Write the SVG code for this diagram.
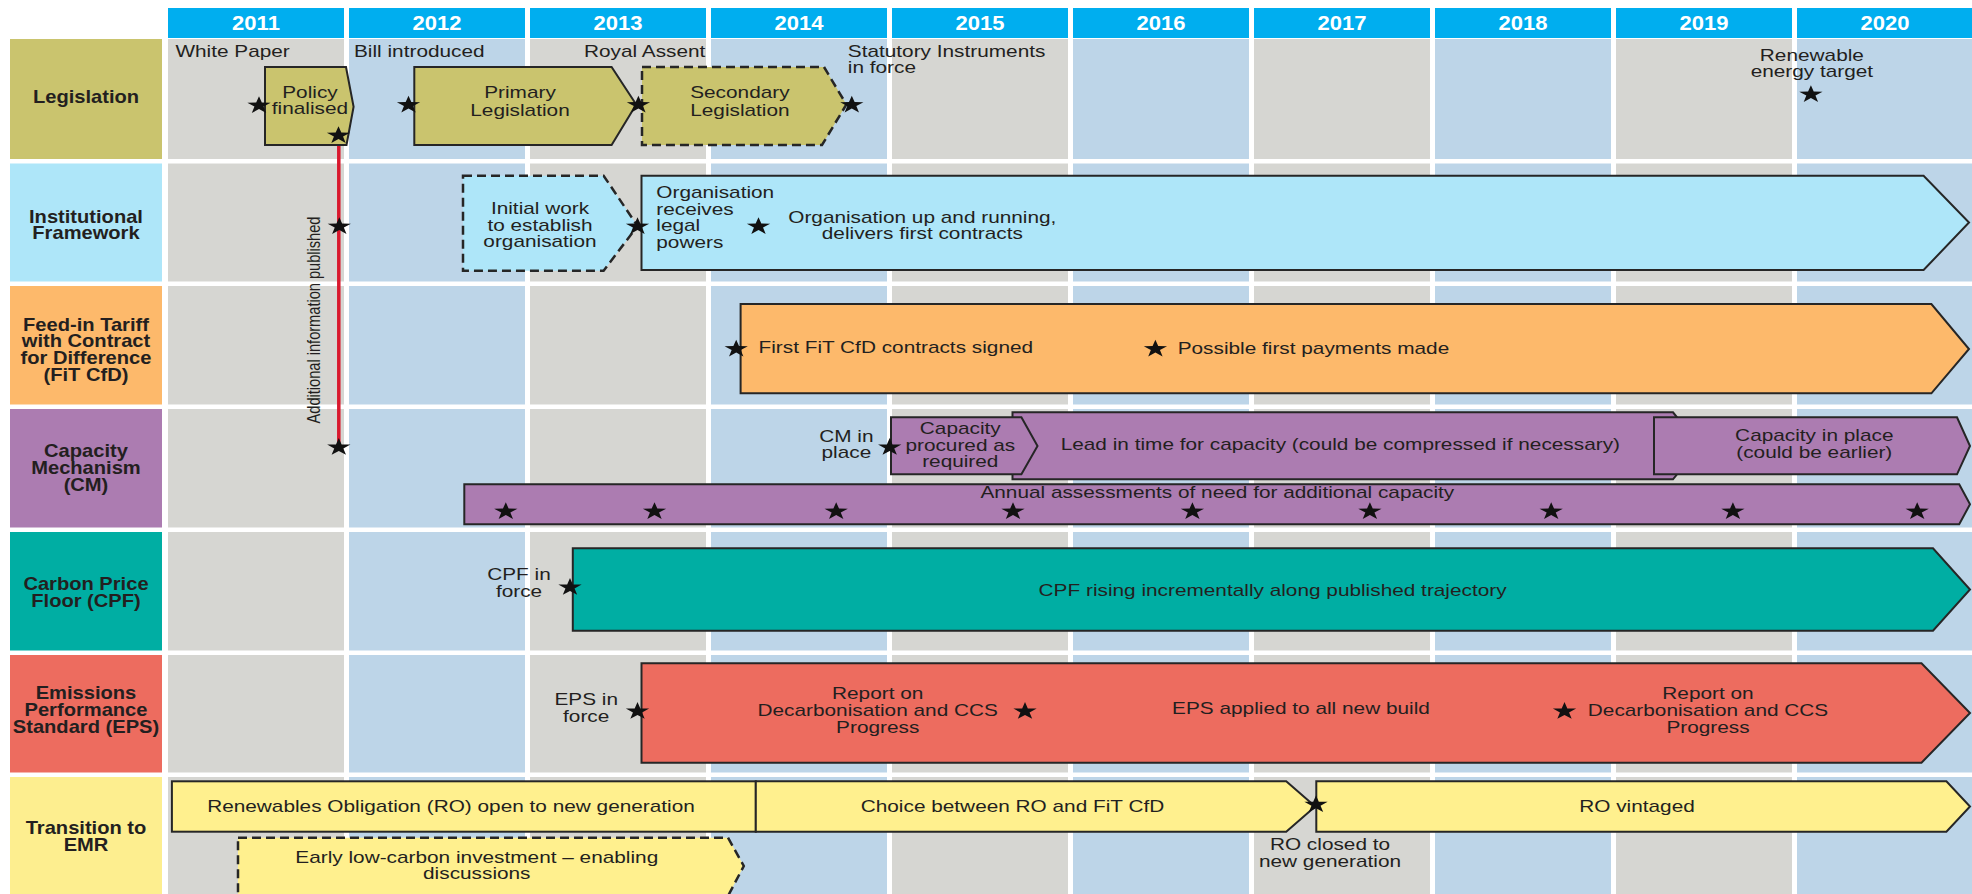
<svg xmlns="http://www.w3.org/2000/svg" width="1972" height="894" viewBox="0 0 1972 894">
<defs>
<path id="star" d="M0,-9.2 L2.82,-2.91 L11.64,-2.84 L4.55,1.11 L7.19,7.44 L0,3.6 L-7.19,7.44 L-4.55,1.11 L-11.64,-2.84 L-2.82,-2.91 Z" fill="#111"/>
<style>
.t{font-family:"Liberation Sans",Arial,sans-serif;font-size:16px;fill:#231f20;transform-box:fill-box;transform:scaleX(1.3)}
.s{text-anchor:start;transform-origin:0% 50%}
.m{text-anchor:middle;transform-origin:50% 50%}
.b{font-weight:bold;font-size:17.5px;transform:scaleX(1.15)}
.h{font-family:"Liberation Sans",Arial,sans-serif;font-weight:bold;font-size:19.5px;fill:#fff;text-anchor:middle;transform-box:fill-box;transform-origin:50% 50%;transform:scaleX(1.13)}
.g{fill:#d6d6d2}
.u{fill:#bdd5e8}
.hd{fill:#00aeef}
.sh{stroke:#262626;stroke-width:2;stroke-linejoin:miter}
.d{stroke-dasharray:9 5;stroke-width:2.5}
</style>
</defs>
<rect width="1972" height="894" fill="#fff"/>
<g id="grid">
<g id="header">
<rect class="hd" x="168" y="8" width="176" height="30"/>
<rect class="hd" x="349" y="8" width="176" height="30"/>
<rect class="hd" x="530" y="8" width="176" height="30"/>
<rect class="hd" x="711" y="8" width="176" height="30"/>
<rect class="hd" x="892" y="8" width="176" height="30"/>
<rect class="hd" x="1073" y="8" width="176" height="30"/>
<rect class="hd" x="1254" y="8" width="176" height="30"/>
<rect class="hd" x="1435" y="8" width="176" height="30"/>
<rect class="hd" x="1616" y="8" width="176" height="30"/>
<rect class="hd" x="1797" y="8" width="175" height="30"/>
<text class="h" x="256" y="30">2011</text>
<text class="h" x="437" y="30">2012</text>
<text class="h" x="618" y="30">2013</text>
<text class="h" x="799" y="30">2014</text>
<text class="h" x="980" y="30">2015</text>
<text class="h" x="1161" y="30">2016</text>
<text class="h" x="1342" y="30">2017</text>
<text class="h" x="1523" y="30">2018</text>
<text class="h" x="1704" y="30">2019</text>
<text class="h" x="1885" y="30">2020</text>
</g>
<g id="cells">
<rect class="g" x="168" y="39" width="176" height="855"/>
<rect class="u" x="349" y="39" width="176" height="855"/>
<rect class="g" x="530" y="39" width="176" height="855"/>
<rect class="u" x="711" y="39" width="176" height="855"/>
<rect class="g" x="892" y="39" width="176" height="855"/>
<rect class="u" x="1073" y="39" width="176" height="855"/>
<rect class="g" x="1254" y="39" width="176" height="855"/>
<rect class="u" x="1435" y="39" width="176" height="855"/>
<rect class="g" x="1616" y="39" width="176" height="855"/>
<rect class="u" x="1797" y="39" width="175" height="855"/>
<g fill="#fff">
<rect x="160" y="159" width="1812" height="4.5"/>
<rect x="160" y="281.5" width="1812" height="4.5"/>
<rect x="160" y="404.5" width="1812" height="4.5"/>
<rect x="160" y="527.5" width="1812" height="4.5"/>
<rect x="160" y="650.5" width="1812" height="4.5"/>
<rect x="160" y="772.5" width="1812" height="4.5"/>
</g>
</g>
</g>
<g id="row-labels">
<g id="label-legislation"><rect x="10" y="39" width="152" height="120" fill="#cac46e"/><text class="t m b" x="86" y="103.5">Legislation</text></g>
<g id="label-institutional"><rect x="10" y="163.5" width="152" height="118" fill="#aee6f9"/><text class="t m b" x="86" y="222.7">Institutional<tspan x="86" y="239.3">Framework</tspan></text></g>
<g id="label-fit"><rect x="10" y="286" width="152" height="118.5" fill="#fdb96b"/><text class="t m b" x="86" y="330.7">Feed-in Tariff<tspan x="86" y="347.3">with Contract</tspan><tspan x="86" y="364">for Difference</tspan><tspan x="86" y="380.7">(FiT CfD)</tspan></text></g>
<g id="label-cm"><rect x="10" y="409" width="152" height="118.5" fill="#ac7cb1"/><text class="t m b" x="86" y="457.3">Capacity<tspan x="86" y="474">Mechanism</tspan><tspan x="86" y="490.7">(CM)</tspan></text></g>
<g id="label-cpf"><rect x="10" y="532" width="152" height="118.5" fill="#00aea3"/><text class="t m b" x="86" y="590">Carbon Price<tspan x="86" y="606.7">Floor (CPF)</tspan></text></g>
<g id="label-eps"><rect x="10" y="655" width="152" height="117.5" fill="#ed6c5f"/><text class="t m b" x="86" y="699.3">Emissions<tspan x="86" y="716">Performance</tspan><tspan x="86" y="732.7">Standard (EPS)</tspan></text></g>
<g id="label-transition"><rect x="10" y="777" width="152" height="117" fill="#fdee8f"/><text class="t m b" x="86" y="834">Transition to<tspan x="86" y="851">EMR</tspan></text></g>
</g>
<g id="connectors">
<line x1="338.8" y1="135" x2="338.8" y2="446.7" stroke="#d9182d" stroke-width="3.5"/>
<text font-family="Liberation Sans, Arial, sans-serif" font-size="14.6" fill="#231f20" text-anchor="middle" transform="translate(319.5,320) scale(1.3,1) rotate(-90)">Additional information published</text>
</g>
<g id="legislation">
<text class="t s" x="175.4" y="57.3">White Paper</text>
<text class="t s" x="354" y="57.3">Bill introduced</text>
<text class="t s" x="584" y="57.3">Royal Assent</text>
<text class="t s" x="847.8" y="57.3">Statutory Instruments<tspan x="847.8" y="73.5">in force</tspan></text>
<text class="t m" x="1812" y="61">Renewable<tspan x="1812" y="77">energy target</tspan></text>
<g id="policy-finalised"><polygon class="sh" fill="#cac46e" points="265,67 346,67 353.6,106.7 346.5,145 265,145"/><text class="t m" x="310" y="98.3">Policy<tspan x="310" y="114.5">finalised</tspan></text></g>
<g id="primary-legislation"><polygon class="sh" fill="#cac46e" points="414.3,67 611.6,67 636.2,104.5 611.6,145 414.3,145"/><text class="t m" x="520" y="98.3">Primary<tspan x="520" y="116">Legislation</tspan></text></g>
<g id="secondary-legislation"><polygon class="sh d" fill="#cac46e" points="642,67 824,67 846.4,104.5 822,145 642,145"/><text class="t m" x="740" y="98.3">Secondary<tspan x="740" y="116">Legislation</tspan></text></g>
</g>
<g id="institutional">
<g id="initial-work"><polygon class="sh d" fill="#aee6f9" points="463,175.7 603.6,175.7 637.5,226 603.6,270.7 463,270.7"/><text class="t m" x="540" y="214.3">Initial work<tspan x="540" y="231">to establish</tspan><tspan x="540" y="247.5">organisation</tspan></text></g>
<g id="organisation-running"><polygon class="sh" fill="#aee6f9" points="641.5,175.7 1923.6,175.7 1969,222.5 1923.6,270 641.5,270"/><text class="t s" x="656.3" y="198.3">Organisation<tspan x="656.3" y="214.8">receives</tspan><tspan x="656.3" y="231.3">legal</tspan><tspan x="656.3" y="247.8">powers</tspan></text><text class="t m" x="922.3" y="222.7">Organisation up and running,<tspan x="922.3" y="239">delivers first contracts</tspan></text></g>
</g>
<g id="fit-cfd">
<polygon class="sh" fill="#fdb96b" points="740.6,304 1931.4,304 1969,349 1931.4,393.3 740.6,393.3"/>
<text class="t s" x="758.5" y="353.3">First FiT CfD contracts signed</text>
<text class="t s" x="1177.7" y="353.8">Possible first payments made</text>
</g>
<g id="capacity-mechanism">
<text class="t m" x="846.4" y="441.7">CM in<tspan x="846.4" y="458.3">place</tspan></text>
<g id="lead-in"><polygon class="sh" fill="#ac7cb1" points="1012.5,412.3 1673,412.3 1700,446 1673,479.3 1012.5,479.3"/><text class="t s" x="1060.7" y="450.5">Lead in time for capacity (could be compressed if necessary)</text></g>
<g id="capacity-procured"><polygon class="sh" fill="#ac7cb1" points="891,417.3 1021.4,417.3 1037.5,446 1021.4,474.3 891,474.3"/><text class="t m" x="960.3" y="434">Capacity<tspan x="960.3" y="450.7">procured as</tspan><tspan x="960.3" y="467.3">required</tspan></text></g>
<g id="capacity-in-place"><polygon class="sh" fill="#ac7cb1" points="1654,417.3 1957,417.3 1970,446 1957,474.3 1654,474.3"/><text class="t m" x="1814.3" y="440.7">Capacity in place<tspan x="1814.3" y="457.7">(could be earlier)</tspan></text></g>
<g id="annual-assessments"><polygon class="sh" fill="#ac7cb1" points="464.3,484.3 1959.2,484.3 1970,504.3 1959.2,524.3 464.3,524.3"/><text class="t s" x="980.4" y="498.3">Annual assessments of need for additional capacity</text></g>
</g>
<g id="carbon-price-floor">
<text class="t m" x="519" y="580">CPF in<tspan x="519" y="597">force</tspan></text>
<polygon class="sh" fill="#00aea3" points="572.8,548.3 1933,548.3 1970,589.5 1933,630.7 572.8,630.7"/>
<text class="t m" x="1272.7" y="596">CPF rising incrementally along published trajectory</text>
</g>
<g id="eps">
<text class="t m" x="586.2" y="705">EPS in<tspan x="586.2" y="721.7">force</tspan></text>
<polygon class="sh" fill="#ed6c5f" points="641.5,663.3 1921.5,663.3 1970,713 1921.5,762.7 641.5,762.7"/>
<text class="t m" x="877.7" y="699">Report on<tspan x="877.7" y="716">Decarbonisation and CCS</tspan><tspan x="877.7" y="732.7">Progress</tspan></text>
<text class="t m" x="1301" y="714.3">EPS applied to all new build</text>
<text class="t m" x="1708" y="699">Report on<tspan x="1708" y="716">Decarbonisation and CCS</tspan><tspan x="1708" y="732.7">Progress</tspan></text>
</g>
<g id="transition">
<g id="ro-open"><rect class="sh" fill="#fff08e" x="171.9" y="781.3" width="583.9" height="50.4"/><text class="t m" x="451" y="811.7">Renewables Obligation (RO) open to new generation</text></g>
<g id="choice"><polygon class="sh" fill="#fff08e" points="755.8,781.3 1286.2,781.3 1315.2,806.5 1286.2,831.7 755.8,831.7"/><text class="t m" x="1012.5" y="812.3">Choice between RO and FiT CfD</text></g>
<g id="ro-vintaged"><polygon class="sh" fill="#fff08e" points="1316.3,781.3 1946.4,781.3 1970,806.5 1946.4,831.7 1316.3,831.7"/><text class="t m" x="1637" y="812.3">RO vintaged</text></g>
<text class="t m" x="1330" y="850">RO closed to<tspan x="1330" y="866.7">new generation</tspan></text>
<g id="early-investment"><polygon class="sh d" fill="#fff08e" points="238,837.7 728,837.7 743.8,866 728,896 238,896"/><text class="t m" x="476.8" y="863.3">Early low-carbon investment – enabling<tspan x="476.8" y="879.3">discussions</tspan></text></g>
</g>
<g id="milestones">
<use href="#star" x="259" y="105.5"/>
<use href="#star" x="338.5" y="135.5"/>
<use href="#star" x="408.5" y="105"/>
<use href="#star" x="638.4" y="105"/>
<use href="#star" x="851.8" y="105"/>
<use href="#star" x="1810.9" y="94.5"/>
<use href="#star" x="339.3" y="226.5"/>
<use href="#star" x="637.5" y="226.5"/>
<use href="#star" x="758.5" y="226.5"/>
<use href="#star" x="736.2" y="349"/>
<use href="#star" x="1155.4" y="349"/>
<use href="#star" x="889.7" y="447.3"/>
<use href="#star" x="338.8" y="447.3"/>
<use href="#star" x="505.8" y="511.5"/>
<use href="#star" x="654.5" y="511.5"/>
<use href="#star" x="836.2" y="511.5"/>
<use href="#star" x="1013" y="511.5"/>
<use href="#star" x="1192.4" y="511.5"/>
<use href="#star" x="1369.9" y="511.5"/>
<use href="#star" x="1551.2" y="511.5"/>
<use href="#star" x="1732.9" y="511.5"/>
<use href="#star" x="1917.2" y="511.5"/>
<use href="#star" x="570" y="587.3"/>
<use href="#star" x="637.5" y="711.3"/>
<use href="#star" x="1025" y="711.3"/>
<use href="#star" x="1564.5" y="711.3"/>
<use href="#star" x="1316" y="804.6"/>
</g>
</svg>
